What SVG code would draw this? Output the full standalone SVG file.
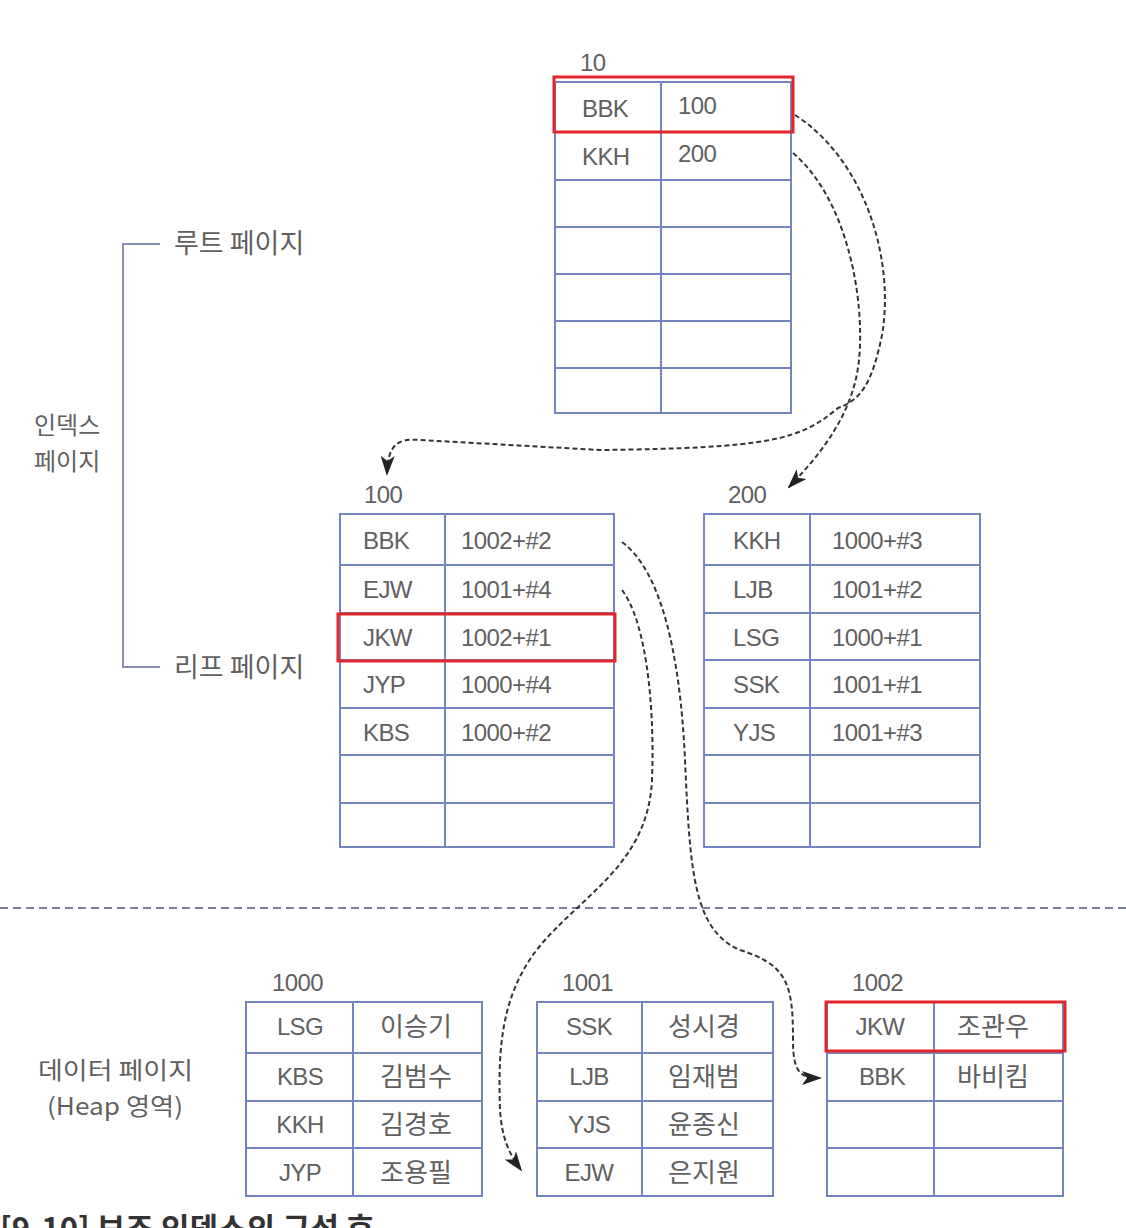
<svg xmlns="http://www.w3.org/2000/svg" width="1126" height="1228" viewBox="0 0 1126 1228">
<style>
.t{font-family:"Liberation Sans",Arial,sans-serif;font-size:24px;fill:#606060;letter-spacing:-0.6px}
.k{font-family:"Noto Sans CJK KR","Liberation Sans",sans-serif;font-size:26px;fill:#606060}
.kl{font-family:"Noto Sans CJK KR","Liberation Sans",sans-serif;font-size:27px;fill:#606060}
.ks{font-family:"Noto Sans CJK KR","Liberation Sans",sans-serif;font-size:24px;fill:#606060}
.m{text-anchor:middle}
.grid{fill:none;stroke:#7384bf;stroke-width:2}
.red{fill:none;stroke:#e0262b;stroke-width:3}
.conn{fill:none;stroke:#333;stroke-width:2;stroke-dasharray:5 3}
.sep{stroke:#7a7f9a;stroke-width:2;stroke-dasharray:8 5}
.br{fill:none;stroke:#8a90b0;stroke-width:2}
</style>
<defs>
<marker id="ah" viewBox="0 0 20 14" refX="18" refY="7" markerWidth="20" markerHeight="14" markerUnits="userSpaceOnUse" orient="auto">
<path d="M0,0 L20,7 L0,14 L5,7 Z" fill="#222"/>
</marker>
</defs>
<rect width="1126" height="1228" fill="#fff"/>

<g id="labels">
<path class="br" d="M160,244 H123 V667 H160"/>
<text class="kl" x="174" y="253">루트 페이지</text>
<text class="kl" x="174" y="677">리프 페이지</text>
<text class="ks" x="34" y="434">인덱스</text>
<text class="ks" x="34" y="470">페이지</text>
<text class="ks" x="38" y="1079" textLength="155" lengthAdjust="spacingAndGlyphs">데이터 페이지</text>
<text class="ks" x="47" y="1115" textLength="136" lengthAdjust="spacingAndGlyphs">(Heap 영역)</text>
</g>

<line class="sep" x1="0" y1="908" x2="1126" y2="908"/>

<g id="root10">
<text class="t" x="580" y="71">10</text>
<rect class="grid" x="555" y="82" width="236" height="331"/>
<path class="grid" d="M661,82 V413 M555,132 H791 M555,180 H791 M555,227 H791 M555,274 H791 M555,321 H791 M555,368 H791"/>
<text class="t" x="582" y="117">BBK</text><text class="t" x="678" y="114">100</text>
<text class="t" x="582" y="165">KKH</text><text class="t" x="678" y="162">200</text>
<rect class="red" x="554" y="77" width="239" height="55"/>
</g>

<g id="leaf100">
<text class="t" x="364" y="503">100</text>
<rect class="grid" x="340" y="514" width="274" height="333"/>
<path class="grid" d="M445,514 V847 M340,565 H614 M340,613 H614 M340,660 H614 M340,708 H614 M340,755 H614 M340,803 H614"/>
<text class="t" x="363" y="549">BBK</text><text class="t" x="461" y="549">1002+#2</text>
<text class="t" x="363" y="598">EJW</text><text class="t" x="461" y="598">1001+#4</text>
<text class="t" x="363" y="646">JKW</text><text class="t" x="461" y="646">1002+#1</text>
<text class="t" x="363" y="693">JYP</text><text class="t" x="461" y="693">1000+#4</text>
<text class="t" x="363" y="741">KBS</text><text class="t" x="461" y="741">1000+#2</text>
<rect class="red" x="338" y="614" width="277" height="47"/>
</g>

<g id="leaf200">
<text class="t" x="728" y="503">200</text>
<rect class="grid" x="704" y="514" width="276" height="333"/>
<path class="grid" d="M810,514 V847 M704,565 H980 M704,613 H980 M704,660 H980 M704,708 H980 M704,755 H980 M704,803 H980"/>
<text class="t" x="733" y="549">KKH</text><text class="t" x="832" y="549">1000+#3</text>
<text class="t" x="733" y="598">LJB</text><text class="t" x="832" y="598">1001+#2</text>
<text class="t" x="733" y="646">LSG</text><text class="t" x="832" y="646">1000+#1</text>
<text class="t" x="733" y="693">SSK</text><text class="t" x="832" y="693">1001+#1</text>
<text class="t" x="733" y="741">YJS</text><text class="t" x="832" y="741">1001+#3</text>
</g>

<g id="data1000">
<text class="t" x="272" y="991">1000</text>
<rect class="grid" x="246" y="1002" width="236" height="194"/>
<path class="grid" d="M353,1002 V1196 M246,1053 H482 M246,1101 H482 M246,1148 H482"/>
<text class="t m" x="300" y="1035">LSG</text><text class="k m" x="416" y="1036">이승기</text>
<text class="t m" x="300" y="1085">KBS</text><text class="k m" x="416" y="1086">김범수</text>
<text class="t m" x="300" y="1133">KKH</text><text class="k m" x="416" y="1134">김경호</text>
<text class="t m" x="300" y="1181">JYP</text><text class="k m" x="416" y="1182">조용필</text>
</g>

<g id="data1001">
<text class="t" x="562" y="991">1001</text>
<rect class="grid" x="537" y="1002" width="236" height="194"/>
<path class="grid" d="M642,1002 V1196 M537,1053 H773 M537,1101 H773 M537,1148 H773"/>
<text class="t m" x="589" y="1035">SSK</text><text class="k m" x="704" y="1036">성시경</text>
<text class="t m" x="589" y="1085">LJB</text><text class="k m" x="704" y="1086">임재범</text>
<text class="t m" x="589" y="1133">YJS</text><text class="k m" x="704" y="1134">윤종신</text>
<text class="t m" x="589" y="1181">EJW</text><text class="k m" x="704" y="1182">은지원</text>
</g>

<g id="data1002">
<text class="t" x="852" y="991">1002</text>
<rect class="grid" x="827" y="1002" width="236" height="194"/>
<path class="grid" d="M934,1002 V1196 M827,1053 H1063 M827,1101 H1063 M827,1148 H1063"/>
<text class="t m" x="880" y="1035">JKW</text><text class="k m" x="993" y="1036">조관우</text>
<text class="t m" x="882" y="1085">BBK</text><text class="k m" x="993" y="1086">바비킴</text>
<rect class="red" x="826" y="1002" width="239" height="49"/>
</g>

<g id="connectors">
<path class="conn" marker-end="url(#ah)" d="M795,115 C865,160 895,260 882,335 C872,385 860,400 838,408 C800,440 770,448 600,450 L420,440 C396,438 388,446 387,474"/>
<path class="conn" marker-end="url(#ah)" d="M793,153 C848,200 865,300 859,360 C854,410 825,450 789,487"/>
<path class="conn" marker-end="url(#ah)" d="M622,542 C660,570 680,650 685,760 C690,870 693,930 740,950 C788,965 793,985 793,1040 C793,1072 800,1078 820,1078"/>
<path class="conn" marker-end="url(#ah)" d="M622,590 C645,620 655,700 652,780 C648,860 590,890 545,940 C500,990 498,1050 500,1110 C502,1140 510,1155 521,1170"/>
</g>

<text x="0" y="1240" style="font-family:'Noto Sans CJK KR',sans-serif;font-size:31px;font-weight:bold;fill:#333">[9-10] 보조 인덱스의 구성 후</text>
</svg>
